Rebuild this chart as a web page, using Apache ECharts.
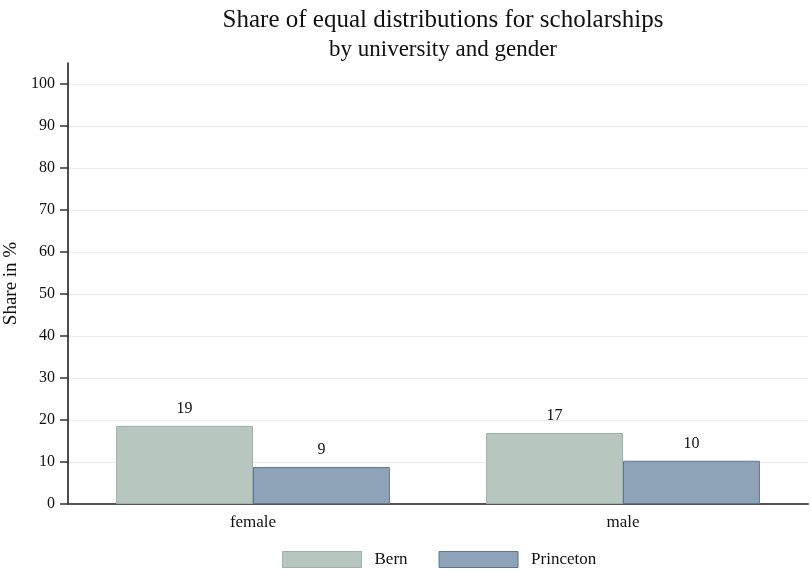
<!DOCTYPE html>
<html><head><meta charset="utf-8">
<script src="https://cdn.jsdelivr.net/npm/echarts@6/dist/echarts.min.js"></script>
<style>html,body{margin:0;padding:0;background:#fff}#c{width:811px;height:570px}</style>
</head><body><div id="c"></div>
<script>
const categories = ['female', 'male'];
const bern = [18.6, 16.9];
const princeton = [8.8, 10.3];
const yTicks = [0,10,20,30,40,50,60,70,80,90,100];

const F = 'Liberation Serif';
const chart = echarts.init(document.getElementById('c'));
chart.setOption({
  animation: false,
  title: {
    text: 'Share of equal distributions for scholarships',
    subtext: 'by university and gender',
    left: 438, top: 3, textAlign: 'center',
    textStyle: {fontFamily: F, fontSize: 25, fontWeight: 'normal', color: '#111'},
    subtextStyle: {fontFamily: F, fontSize: 23, color: '#111'},
    itemGap: 5
  },
  grid: {left: 68, right: 3, top: 63, bottom: 66, outerBoundsMode: 'none'},
  legend: {
    top: 546, left: 277, icon: 'rect',
    itemWidth: 79, itemHeight: 16, itemGap: 31,
    itemStyle: {borderWidth: 1},
    textStyle: {fontFamily: F, fontSize: 17, color: '#111', padding: [0,0,0,8]},
    data: ['Bern', 'Princeton']
  },
  xAxis: {
    type: 'category', data: categories,
    axisLine: {lineStyle: {color: '#555', width: 2}},
    axisTick: {show: false},
    axisLabel: {fontFamily: F, fontSize: 17, color: '#111', margin: 10}
  },
  yAxis: {
    type: 'value', min: 0, max: 105, interval: 10,
    name: 'Share in %', nameLocation: 'middle', nameGap: 41, nameRotate: 90,
    nameTextStyle: {fontFamily: F, fontSize: 19, color: '#111'},
    axisLine: {show: true, lineStyle: {color: '#111', width: 1.5}},
    axisTick: {show: true, length: 8, customValues: yTicks, lineStyle: {color: '#333', width: 1.5}},
    axisLabel: {fontFamily: F, fontSize: 16, color: '#111', customValues: yTicks, margin: 13},
    splitLine: {show: true, lineStyle: {color: '#ececec', width: 1}}
  },
  series: [
    {
      name: 'Bern', type: 'bar', data: bern, barGap: '0%', barCategoryGap: '26%',
      itemStyle: {color: '#b7c7c0', borderColor: '#9db1a8', borderWidth: 1},
      label: {show: true, position: 'top', distance: 9, fontFamily: F, fontSize: 16, color: '#111',
        formatter: p => Math.round(p.value)}
    },
    {
      name: 'Princeton', type: 'bar', data: princeton,
      itemStyle: {color: '#8ea3b8', borderColor: '#5d7792', borderWidth: 1},
      label: {show: true, position: 'top', distance: 9, fontFamily: F, fontSize: 16, color: '#111',
        formatter: p => Math.round(p.value)}
    }
  ]
});
</script></body></html>
